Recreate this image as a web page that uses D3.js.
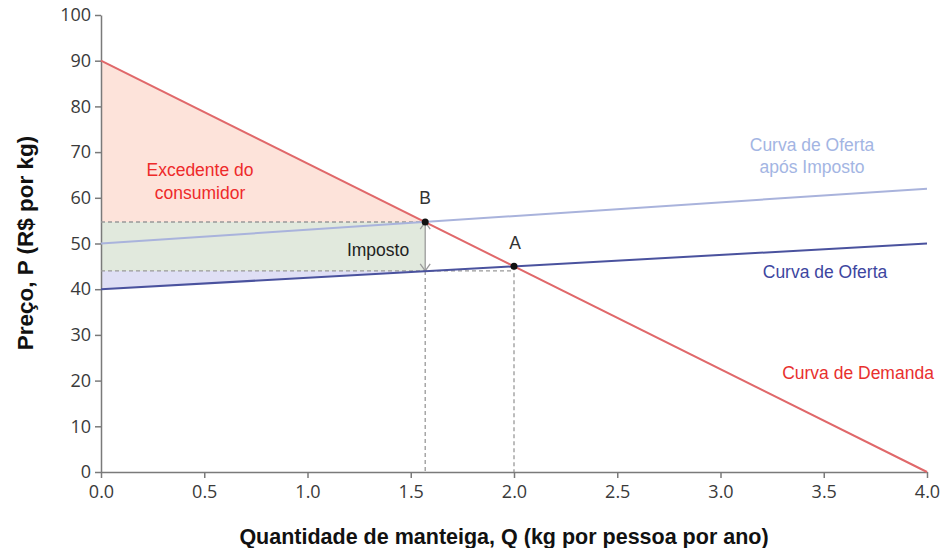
<!DOCTYPE html>
<html>
<head>
<meta charset="utf-8">
<script src="https://cdn.jsdelivr.net/npm/d3@7"></script>
<style>
  body { margin: 0; background: #fff; }
  svg { display: block; }
</style>
</head>
<body>
<svg id="chart" width="941" height="548"></svg>
<script>
// data
var qTicks = [0, 0.5, 1.0, 1.5, 2.0, 2.5, 3.0, 3.5, 4.0];
var pTicks = [0, 10, 20, 30, 40, 50, 60, 70, 80, 90, 100];
var demand = [[0, 90], [4, 0]];
var supply = [[0, 40], [4, 50]];
var supplyTax = [[0, 50], [4, 62]];
var pointA = [2.0, 45];
var pointB = [1.57, 54.7];
var sellerPrice = 44;

var svg = d3.select("#chart");
var x = d3.scaleLinear().domain([0, 4]).range([101, 927]);
var y = d3.scaleLinear().domain([0, 100]).range([472, 15]);

var line = d3.line().x(d => x(d[0])).y(d => y(d[1]));

// areas
var cs = [[0, demand[0][1]], pointB, [0, pointB[1]]];
var tax = [[0, pointB[1]], pointB, [pointB[0], sellerPrice], [0, sellerPrice]];
var ps = [[0, supply[0][1]], [pointB[0], sellerPrice], [0, sellerPrice]];

svg.append("path").attr("d", line(cs) + "Z").attr("fill", "#fde3da");
svg.append("path").attr("d", line(tax) + "Z").attr("fill", "#e1e9dd");
svg.append("path").attr("d", line(ps) + "Z").attr("fill", "#dfdff5");

// axes
var xAxis = svg.append("g")
  .attr("transform", "translate(0," + y(0) + ")")
  .call(d3.axisBottom(x).tickValues(qTicks).tickFormat(d3.format(".1f")).tickSize(6).tickSizeOuter(0));
var yAxis = svg.append("g")
  .attr("transform", "translate(" + x(0) + ",0)")
  .call(d3.axisLeft(y).tickValues(pTicks).tickSize(6).tickSizeOuter(0));

[xAxis, yAxis].forEach(function (a) {
  a.selectAll("path, line").attr("stroke", "#7a7a7a").attr("stroke-width", 1.5);
  a.selectAll("text")
    .style("font-family", "'Open Sans', 'DejaVu Sans', sans-serif")
    .style("font-size", "18px")
    .attr("fill", "#3a3a3a");
});
xAxis.selectAll("text").attr("dy", "0.95em");
yAxis.selectAll("text").attr("dx", "-0.05em");

// dashed guides
var dash = svg.append("g")
  .attr("stroke", "#999")
  .attr("stroke-width", 1.3)
  .attr("stroke-dasharray", "4,3")
  .attr("fill", "none");
dash.append("path").attr("d", line([[0, pointB[1]], pointB]));
dash.append("path").attr("d", line([[0, sellerPrice], [pointA[0], sellerPrice]]));
dash.append("path").attr("d", line([[pointB[0], sellerPrice], [pointB[0], 0]]));
dash.append("path").attr("d", line([pointA, [pointA[0], 0]]));

// tax arrow
var ax = x(pointB[0]);
var arr = svg.append("g").attr("stroke", "#9a9a9a").attr("stroke-width", 1.3).attr("fill", "none");
arr.append("path").attr("d", line([pointB, [pointB[0], sellerPrice]]));
arr.append("path").attr("d", "M" + (ax - 5) + "," + (y(pointB[1]) + 7) + "L" + ax + "," + y(pointB[1]) + "L" + (ax + 5) + "," + (y(pointB[1]) + 7));
arr.append("path").attr("d", "M" + (ax - 5) + "," + (y(sellerPrice) - 7) + "L" + ax + "," + y(sellerPrice) + "L" + (ax + 5) + "," + (y(sellerPrice) - 7));

// curves
svg.append("path").attr("d", line(supplyTax)).attr("stroke", "#a9b3dc").attr("stroke-width", 2).attr("fill", "none");
svg.append("path").attr("d", line(supply)).attr("stroke", "#4a529e").attr("stroke-width", 2).attr("fill", "none");
svg.append("path").attr("d", line(demand)).attr("stroke", "#e0686a").attr("stroke-width", 2).attr("fill", "none");

// points
svg.selectAll("circle.pt")
  .data([pointA, pointB])
  .enter()
  .append("circle")
  .attr("class", "pt")
  .attr("cx", d => x(d[0]))
  .attr("cy", d => y(d[1]))
  .attr("r", 3.5)
  .attr("fill", "#111");

// labels
var labels = [
  { t: "Excedente do", x: 200, y: 176, c: "#ee2a2a" },
  { t: "consumidor", x: 200, y: 199, c: "#ee2a2a" },
  { t: "B", x: 425, y: 204, c: "#333" },
  { t: "A", x: 515, y: 249, c: "#333" },
  { t: "Imposto", x: 378, y: 256, c: "#222" },
  { t: "Curva de Oferta", x: 812, y: 151, c: "#a3b5e3" },
  { t: "após Imposto", x: 812, y: 173, c: "#a3b5e3" },
  { t: "Curva de Oferta", x: 825, y: 278, c: "#3d46a0" },
  { t: "Curva de Demanda", x: 858, y: 379, c: "#e8302e" }
];
svg.append("g")
  .selectAll("text")
  .data(labels)
  .enter()
  .append("text")
  .attr("x", d => d.x)
  .attr("y", d => d.y)
  .attr("text-anchor", "middle")
  .attr("fill", d => d.c)
  .style("font-family", "'Liberation Sans', Arial, sans-serif")
  .style("font-size", "17.5px")
  .text(d => d.t);

// axis titles
svg.append("text")
  .attr("x", 504)
  .attr("y", 544)
  .attr("text-anchor", "middle")
  .style("font-family", "'Liberation Sans', Arial, sans-serif")
  .style("font-size", "21.5px")
  .style("font-weight", "bold")
  .attr("fill", "#111")
  .text("Quantidade de manteiga, Q (kg por pessoa por ano)");

svg.append("text")
  .attr("transform", "translate(33,243) rotate(-90)")
  .attr("text-anchor", "middle")
  .style("font-family", "'Liberation Sans', Arial, sans-serif")
  .style("font-size", "22.5px")
  .style("font-weight", "bold")
  .attr("fill", "#111")
  .text("Preço, P (R$ por kg)");
</script>
</body>
</html>
